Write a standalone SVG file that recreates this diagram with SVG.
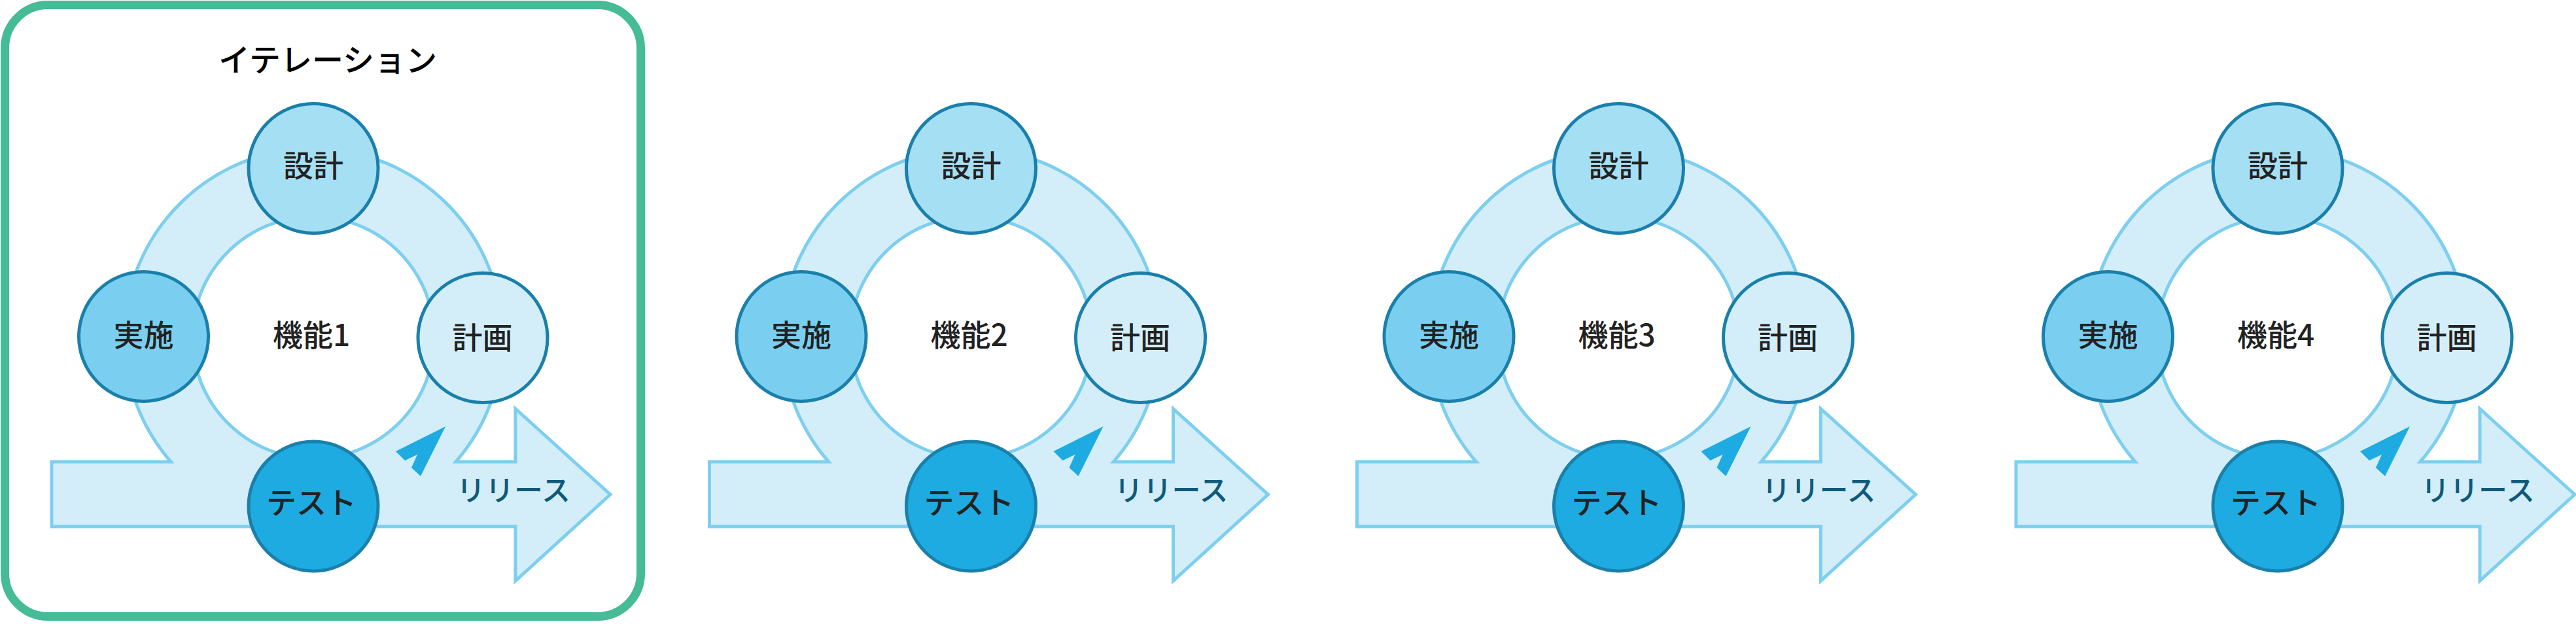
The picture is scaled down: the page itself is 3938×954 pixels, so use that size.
<svg xmlns="http://www.w3.org/2000/svg" xmlns:xlink="http://www.w3.org/1999/xlink" width="3938" height="954" viewBox="0 0 3938 954">
<style>
  .ring{fill:#d3eef9;stroke:#7ecfef;stroke-width:5;fill-rule:evenodd;stroke-linejoin:miter}
  .plane{fill:#1eabe2}
  .node{stroke:#1a80ab;stroke-width:5}
  .design{fill:#a5dff4}
  .impl{fill:#7acff0}
  .plan{fill:#d3eef9}
  .test{fill:#1eabe2}
  .lbl{font-family:"Noto Sans CJK JP","Noto Sans",sans-serif;font-size:46px;font-weight:500;fill:#222222;text-anchor:middle}
  .feat{font-family:"Noto Sans CJK JP","Noto Sans",sans-serif;font-size:46px;font-weight:500;fill:#222222;text-anchor:middle}
  .rel{font-family:"Noto Sans CJK JP","Noto Sans",sans-serif;font-size:44px;font-weight:500;fill:#0f5a78;text-anchor:middle}
  .title{font-family:"Noto Sans CJK JP","Noto Sans",sans-serif;font-size:48px;font-weight:500;fill:#000000;text-anchor:middle}
  .frame{fill:none;stroke:#45bb96;stroke-width:13}
</style>
<defs>
  <path id="ringArrow" class="ring" d="M 79 706 L 261.2 706 A 289 289 0 1 1 696.8 706 L 788 706 L 788 625 L 933 756 L 788 888 L 788 805 L 79 805 Z M 479 331 A 185 185 0 1 0 479 701 A 185 185 0 1 0 479 331 Z"/>
  <polygon id="planeIcon" class="plane" points="681,652 605,690 619,704 638,695 629,715 643,728"/>
</defs>
<rect width="3938" height="954" fill="#ffffff"/>

<g id="iteration-frame">
  <rect class="frame" x="7.5" y="7.5" width="972" height="935" rx="66" ry="66"/>
  <text class="title" x="501" y="109">イテレーション</text>
</g>

<g id="connectors">
  <use xlink:href="#ringArrow" href="#ringArrow"/>
  <use xlink:href="#planeIcon" href="#planeIcon"/>
  <use xlink:href="#ringArrow" href="#ringArrow" transform="translate(1005.5 0)"/>
  <use xlink:href="#planeIcon" href="#planeIcon" transform="translate(1005.5 0)"/>
  <use xlink:href="#ringArrow" href="#ringArrow" transform="translate(1995.5 0)"/>
  <use xlink:href="#planeIcon" href="#planeIcon" transform="translate(1995.5 0)"/>
  <use xlink:href="#ringArrow" href="#ringArrow" transform="translate(3003 0)"/>
  <use xlink:href="#planeIcon" href="#planeIcon" transform="translate(3003 0)"/>
</g>

<g id="panel1">
  <g id="p1-design"><circle class="node design" cx="479" cy="257.5" r="99"/><text class="lbl" x="479" y="270">設計</text></g>
  <g id="p1-impl"><circle class="node impl" cx="219.5" cy="514.5" r="99"/><text class="lbl" x="219.5" y="529">実施</text></g>
  <g id="p1-plan"><circle class="node plan" cx="738" cy="516.5" r="99"/><text class="lbl" x="737.5" y="533">計画</text></g>
  <g id="p1-test"><circle class="node test" cx="479" cy="774" r="99"/><text class="lbl" x="476" y="785">テスト</text></g>
  <g id="p1-feature"><text class="feat" x="476" y="529">機能1</text></g>
  <g id="p1-release"><text class="rel" x="785" y="766">リリース</text></g>
</g>

<g id="panel2" transform="translate(1005.5 0)">
  <g id="p2-design"><circle class="node design" cx="479" cy="257.5" r="99"/><text class="lbl" x="479" y="270">設計</text></g>
  <g id="p2-impl"><circle class="node impl" cx="219.5" cy="514.5" r="99"/><text class="lbl" x="219.5" y="529">実施</text></g>
  <g id="p2-plan"><circle class="node plan" cx="738" cy="516.5" r="99"/><text class="lbl" x="737.5" y="533">計画</text></g>
  <g id="p2-test"><circle class="node test" cx="479" cy="774" r="99"/><text class="lbl" x="476" y="785">テスト</text></g>
  <g id="p2-feature"><text class="feat" x="476" y="529">機能2</text></g>
  <g id="p2-release"><text class="rel" x="785" y="766">リリース</text></g>
</g>

<g id="panel3" transform="translate(1995.5 0)">
  <g id="p3-design"><circle class="node design" cx="479" cy="257.5" r="99"/><text class="lbl" x="479" y="270">設計</text></g>
  <g id="p3-impl"><circle class="node impl" cx="219.5" cy="514.5" r="99"/><text class="lbl" x="219.5" y="529">実施</text></g>
  <g id="p3-plan"><circle class="node plan" cx="738" cy="516.5" r="99"/><text class="lbl" x="737.5" y="533">計画</text></g>
  <g id="p3-test"><circle class="node test" cx="479" cy="774" r="99"/><text class="lbl" x="476" y="785">テスト</text></g>
  <g id="p3-feature"><text class="feat" x="476" y="529">機能3</text></g>
  <g id="p3-release"><text class="rel" x="785" y="766">リリース</text></g>
</g>

<g id="panel4" transform="translate(3003 0)">
  <g id="p4-design"><circle class="node design" cx="479" cy="257.5" r="99"/><text class="lbl" x="479" y="270">設計</text></g>
  <g id="p4-impl"><circle class="node impl" cx="219.5" cy="514.5" r="99"/><text class="lbl" x="219.5" y="529">実施</text></g>
  <g id="p4-plan"><circle class="node plan" cx="738" cy="516.5" r="99"/><text class="lbl" x="737.5" y="533">計画</text></g>
  <g id="p4-test"><circle class="node test" cx="479" cy="774" r="99"/><text class="lbl" x="476" y="785">テスト</text></g>
  <g id="p4-feature"><text class="feat" x="476" y="529">機能4</text></g>
  <g id="p4-release"><text class="rel" x="785" y="766">リリース</text></g>
</g>
</svg>
